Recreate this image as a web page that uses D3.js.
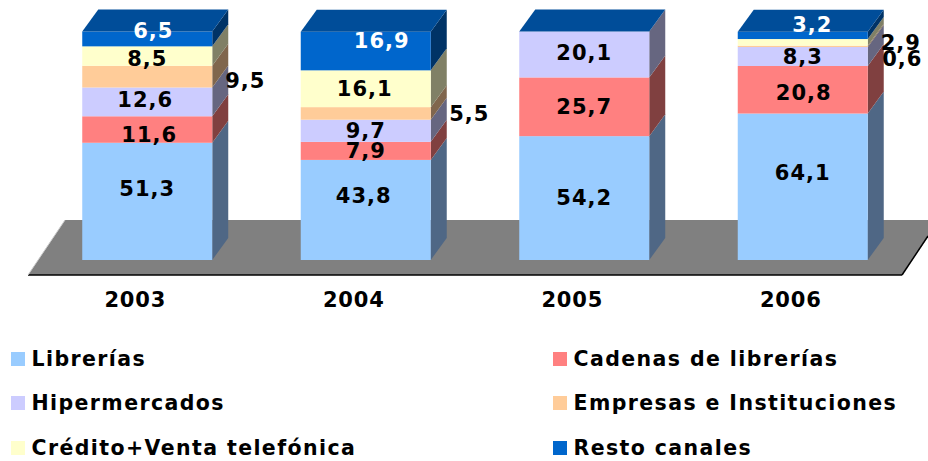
<!DOCTYPE html>
<html><head><meta charset="utf-8">
<script src="https://cdn.jsdelivr.net/npm/d3@7"></script>
<style>
html,body{margin:0;padding:0;background:#fff;overflow:hidden}
text{font-family:"DejaVu Sans",Verdana,sans-serif;font-weight:700;fill:#000}
</style></head><body><svg id="c" width="928" height="461"></svg>
<script>
const years = ["2003","2004","2005","2006"];
const seriesNames = ["Librerías","Cadenas de librerías","Hipermercados","Empresas e Instituciones","Crédito+Venta telefónica","Resto canales"];
const librerias = [51.3,43.8,54.2,64.1];
const cadenas = [11.6,7.9,25.7,20.8];
const hipermercados = [12.6,9.7,20.1,8.3];
const empresas = [9.5,5.5,0,0.6];
const credito = [8.5,16.1,0,2.9];
const resto = [6.5,16.9,0,3.2];
const allSeries = [librerias,cadenas,hipermercados,empresas,credito,resto];
const frontColors = ["#99ccff","#ff8080","#ccccff","#ffcc99","#ffffcc","#0066cc"];
const sideColors = ["#4f6785","#804040","#666680","#80664d","#808066","#003366"];
const topColor = "#004d99";
const floorColor = "#808080";

const DX=16, DY=22;
const svg=d3.select("#c");
const x=d3.scaleBand().domain(years).range([28,902]);
const y=d3.scaleLinear().domain([0,100]).range([260,31.5]);
const barW=130, barOff=10;
const bx=yr=>x(yr)+x.bandwidth()/2+barOff-barW/2;
const fmt=v=>String(v).replace(".",",");

// floor
svg.append("path").attr("d","M28,275L65,220L940,220L902,275Z").attr("fill",floorColor);
svg.append("line").attr("x1",28).attr("x2",902).attr("y1",275).attr("y2",275).attr("stroke","#000").attr("stroke-width",1.5);
svg.append("line").attr("x1",902).attr("x2",928).attr("y1",275).attr("y2",236).attr("stroke","#000").attr("stroke-width",1.5);
svg.append("line").attr("x1",28).attr("x2",65).attr("y1",275).attr("y2",220).attr("stroke","#ccc").attr("stroke-width",1);

// stacks
const rows=years.map((yr,i)=>{const r={year:yr};seriesNames.forEach((n,j)=>r[n]=allSeries[j][i]);return r;});
const stacked=d3.stack().keys(seriesNames)(rows);
// label placement offsets from each segment's centre, as placed in the original chart
const labelNudges={
 "2003|0":[0,-13],"2003|1":[2,4.5],"2003|2":[-2,-2],"2003|3":[98,3.5],"2003|4":[0,2],"2003|5":[6,-8.5],
 "2004|0":[-2,-15],"2004|1":[0,0],"2004|2":[0,0],"2004|3":[103.5,0],"2004|4":[-1,0],"2004|5":[16,-11],
 "2005|0":[0,-1],"2005|1":[0,0],"2005|2":[0,-2],
 "2006|0":[0,-14],"2006|1":[1,2.5],"2006|2":[0,-0.5],"2006|3":[99.5,12],"2006|4":[98,0.5],"2006|5":[9.5,-10.5]
};
const labelData=[];
years.forEach((yr,i)=>{
  const g=svg.append("g");
  const X=bx(yr);
  let top=null;
  stacked.forEach((s,j)=>{
    const [a,b]=s[i];
    if(b-a<=0) return;
    top=j;
    g.append("path")
      .attr("d",`M${X+barW},${y(a)}L${X+barW+DX},${y(a)-DY}L${X+barW+DX},${y(b)-DY}L${X+barW},${y(b)}Z`)
      .attr("fill",sideColors[j]);
    g.append("rect").attr("x",X).attr("y",y(b)).attr("width",barW).attr("height",y(a)-y(b)).attr("fill",frontColors[j]);
    labelData.push({yr,j,val:allSeries[j][i],mid:(y(a)+y(b))/2,X});
  });
  const t=y(stacked[top][i][1]);
  g.append("path").attr("d",`M${X},${t}L${X+DX},${t-DY}L${X+barW+DX},${t-DY}L${X+barW},${t}Z`).attr("fill",topColor);
});
labelData.forEach(d=>{
  const o=labelNudges[d.yr+"|"+d.j]||[0,0];
  svg.append("text")
    .attr("x",d.X+barW/2+o[0])
    .attr("y",d.mid+o[1]).attr("dy","0.36em")
    .attr("text-anchor","middle").attr("font-size",21).attr("letter-spacing",1)
    .style("fill",d.j===5?"#fff":"#000")
    .text(fmt(d.val));
});

// axis
const axis=svg.append("g").attr("transform","translate(0,275)")
  .call(d3.axisBottom(x).tickSize(0).tickPadding(17));
axis.select(".domain").remove();
axis.selectAll("text").attr("font-size",21).attr("font-family",null).attr("letter-spacing",0.8).attr("dx",-2);

// legend
const legX=[11,553], legY=[359,403,448];
seriesNames.forEach((n,j)=>{
  const cx=legX[j%2], cy=legY[Math.floor(j/2)];
  svg.append("rect").attr("x",cx).attr("y",cy-7).attr("width",14).attr("height",14).attr("fill",frontColors[j]);
  svg.append("text").attr("x",cx+20.5).attr("y",cy).attr("dy","0.36em").attr("font-size",20.5).attr("letter-spacing",1.4).text(n);
});
</script></body></html>
